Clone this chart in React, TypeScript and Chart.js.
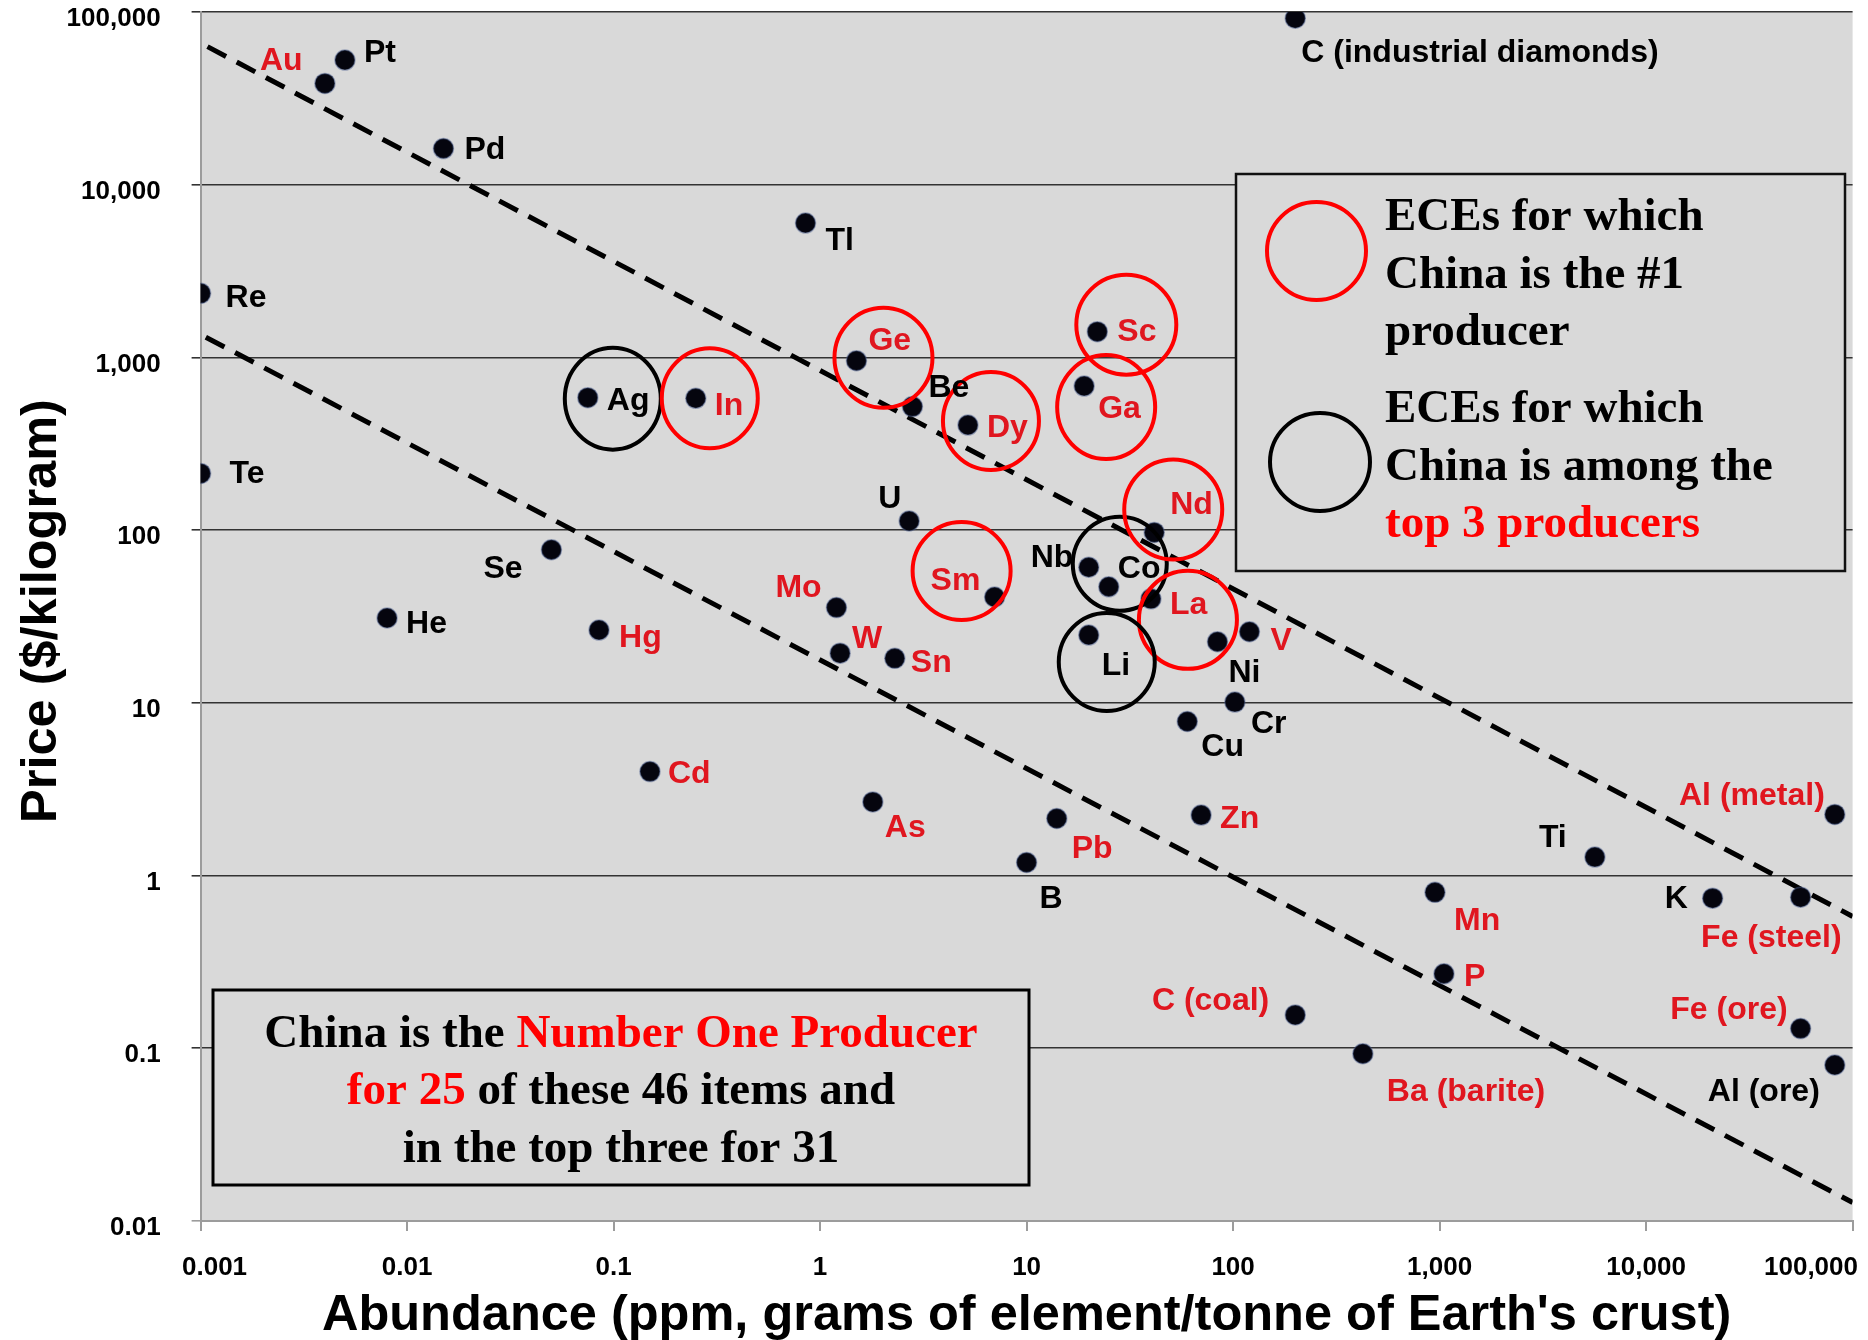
import React, { useEffect, useRef } from "react";
import { Chart, registerables } from "chart.js";

Chart.register(...registerables);

// ---- data -------------------------------------------------------------
const elements = [
  "Au", "Pt", "Pd", "Re", "Te", "Ag", "In", "Tl", "Ge", "Be", "Dy", "Sc", "Ga",
  "C (industrial diamonds)", "U", "Se", "He", "Hg", "Cd", "Mo", "W", "Sn", "Sm",
  "Nb", "Co", "Nd", "La", "Li", "Ni", "V", "Cr", "Cu", "As", "Pb", "B", "Zn",
  "Ti", "Al (metal)", "K", "Fe (steel)", "Mn", "P", "C (coal)", "Fe (ore)",
  "Ba (barite)", "Al (ore)",
];

// crustal abundance, ppm
const abundance = [
  0.004, 0.005, 0.015, 0.001, 0.001, 0.075, 0.25, 0.85, 1.5, 2.8, 5.2, 22, 19,
  200, 2.7, 0.05, 0.008, 0.085, 0.15, 1.2, 1.25, 2.3, 7, 20, 25, 41.5, 40, 20,
  84, 120, 102, 60, 1.8, 14, 10, 70, 5650, 82000, 21000, 56000, 950, 1050, 200,
  56000, 425, 82000,
];

// price, $/kg
const price = [
  38600, 52700, 16200, 2350, 213, 585, 580, 6000, 957, 519, 406, 1410, 683,
  92000, 113, 77, 31, 26.4, 4.0, 35.6, 19.4, 18.1, 41, 61, 47, 97, 40, 24.7,
  22.6, 25.8, 10.1, 7.8, 2.67, 2.14, 1.19, 2.24, 1.28, 2.26, 0.74, 0.75, 0.8,
  0.27, 0.156, 0.13, 0.093, 0.08,
];

// China is the #1 producer
const chinaFirst = [
  "Au", "In", "Ge", "Dy", "Sc", "Ga", "Hg", "Cd", "Mo", "W", "Sn", "Sm", "Nd",
  "La", "V", "As", "Pb", "Zn", "Al (metal)", "Fe (steel)", "Mn", "P", "C (coal)",
  "Fe (ore)", "Ba (barite)",
];

// circled ECEs
const circledFirst = ["In", "Ge", "Sc", "Ga", "Dy", "Sm", "Nd", "La"];
const circledTop3 = ["Ag", "Co", "Li"];

// dashed guide lines
const upperTrendX = [0.00108, 100000];
const upperTrendY = [63000, 0.58];
const lowerTrendX = [0.00106, 100000];
const lowerTrendY = [1310, 0.0128];

const xTicks = [0.001, 0.01, 0.1, 1, 10, 100, 1000, 10000, 100000];
const xTickLabels = ["0.001", "0.01", "0.1", "1", "10", "100", "1,000", "10,000", "100,000"];
const yTicks = [0.01, 0.1, 1, 10, 100, 1000, 10000, 100000];
const yTickLabels = ["0.01", "0.1", "1", "10", "100", "1,000", "10,000", "100,000"];

// ---- layout / style ---------------------------------------------------
const W = 1868;
const H = 1340;
const SANS = '"Liberation Sans", Arial, sans-serif';
const SERIF = '"Liberation Serif", "Times New Roman", serif';
const LABEL_RED = "#e0161f";
const PURE_RED = "#ff0000";
const PLOT_BG = "#d9d9d9";
const GRID = "#333333";
const AXIS_GRAY = "#9c9c9c";

// label placement relative to its dot: [dx, dy, align]
const labelPlacement: Record<string, [number, number, CanvasTextAlign]> = {
  Au: [-65, -13, "left"],
  Pt: [19, 2, "left"],
  Pd: [21, 10, "left"],
  Re: [25, 14, "left"],
  Te: [29, 10, "left"],
  Ag: [19, 12, "left"],
  In: [19, 17, "left"],
  Tl: [20, 27, "left"],
  Ge: [12, -11, "left"],
  Be: [16, -10, "left"],
  Dy: [19, 12, "left"],
  Sc: [20, 9, "left"],
  Ga: [14, 32, "left"],
  "C (industrial diamonds)": [6, 44, "left"],
  U: [-31, -13, "left"],
  Se: [-68, 28, "left"],
  He: [19, 15, "left"],
  Hg: [20, 17, "left"],
  Cd: [18, 11, "left"],
  Mo: [-61, -11, "left"],
  W: [12, -5, "left"],
  Sn: [16, 14, "left"],
  Sm: [-64, -7, "left"],
  Nb: [-58, 0, "left"],
  Co: [9, -9, "left"],
  Nd: [16, -18, "left"],
  La: [19, 15, "left"],
  Li: [13, 40, "left"],
  Ni: [11, 40, "left"],
  V: [21, 18, "left"],
  Cr: [16, 31, "left"],
  Cu: [14, 35, "left"],
  As: [12, 35, "left"],
  Pb: [15, 39, "left"],
  B: [13, 45, "left"],
  Zn: [19, 13, "left"],
  Ti: [-56, -10, "left"],
  "Al (metal)": [-10, -9, "right"],
  K: [-48, 10, "left"],
  "Fe (steel)": [41, 50, "right"],
  Mn: [19, 38, "left"],
  P: [20, 12, "left"],
  "C (coal)": [-26, -5, "right"],
  "Fe (ore)": [-13, -10, "right"],
  "Ba (barite)": [24, 47, "left"],
  "Al (ore)": [-15, 36, "right"],
};

// ellipse around a dot: [dx, dy, rx, ry]
const ringPlacement: Record<string, [number, number, number, number]> = {
  Ag: [25, 1, 48, 51],
  In: [14, 0, 48, 50],
  Ge: [27, -3, 49, 50],
  Sc: [29, -7, 50, 50],
  Ga: [22, 21, 49, 52],
  Dy: [23, -4, 48, 49],
  Sm: [-33, -26, 49, 49],
  Nd: [19, -23, 49, 50],
  La: [37, 21, 49, 49],
  Co: [11, -23, 47, 47],
  Li: [18, 27, 48, 49],
};

type Seg = [string, string];

function drawSegLine(ctx: CanvasRenderingContext2D, segs: Seg[], cx: number, y: number) {
  const total = segs.reduce((s, [t]) => s + ctx.measureText(t).width, 0);
  let x = cx - total / 2;
  ctx.textAlign = "left";
  for (const [t, c] of segs) {
    ctx.fillStyle = c;
    ctx.fillText(t, x, y);
    x += ctx.measureText(t).width;
  }
}

const overlay = {
  id: "overlay",
  beforeDraw(chart: any) {
    const { ctx, chartArea: a } = chart;
    ctx.save();
    ctx.fillStyle = "#ffffff";
    ctx.fillRect(0, 0, chart.width, chart.height);
    ctx.fillStyle = PLOT_BG;
    ctx.fillRect(a.left, a.top, a.right - a.left, a.bottom - a.top);
    ctx.restore();
  },
  afterDatasetsDraw(chart: any) {
    const { ctx } = chart;
    const xs = chart.scales.x;
    const ys = chart.scales.y;
    ctx.save();
    // rings
    ctx.lineWidth = 4;
    elements.forEach((name, i) => {
      const ring = ringPlacement[name];
      if (!ring) return;
      const px = xs.getPixelForValue(abundance[i]);
      const py = ys.getPixelForValue(price[i]);
      ctx.strokeStyle = circledFirst.includes(name) ? PURE_RED : circledTop3.includes(name) ? "#000" : "transparent";
      ctx.beginPath();
      ctx.ellipse(px + ring[0], py + ring[1], ring[2], ring[3], 0, 0, Math.PI * 2);
      ctx.stroke();
    });
    // element names
    ctx.font = `bold 32px ${SANS}`;
    ctx.textBaseline = "alphabetic";
    elements.forEach((name, i) => {
      const px = xs.getPixelForValue(abundance[i]);
      const py = ys.getPixelForValue(price[i]);
      const [dx, dy, align] = labelPlacement[name] || [15, 10, "left"];
      ctx.textAlign = align;
      ctx.fillStyle = chinaFirst.includes(name) ? LABEL_RED : "#000";
      ctx.fillText(name, px + dx, py + dy);
    });
    ctx.restore();
  },
  afterDraw(chart: any) {
    const { ctx, chartArea: a } = chart;
    const xs = chart.scales.x;
    const ys = chart.scales.y;
    ctx.save();

    // tick labels
    ctx.fillStyle = "#000";
    ctx.font = `bold 26px ${SANS}`;
    ctx.textBaseline = "middle";
    ctx.textAlign = "right";
    yTicks.forEach((v, i) => {
      ctx.fillText(yTickLabels[i], a.left - 40, ys.getPixelForValue(v) + 7);
    });
    ctx.textAlign = "center";
    xTicks.forEach((v, i) => {
      const label = xTickLabels[i];
      const w = ctx.measureText(label).width;
      let cx = xs.getPixelForValue(v);
      cx = Math.max(cx, 182 + w / 2);
      cx = Math.min(cx, W - 10 - w / 2);
      ctx.fillText(label, cx, a.bottom + 47);
    });

    // axis titles
    ctx.textBaseline = "alphabetic";
    ctx.font = `bold 50.5px ${SANS}`;
    ctx.textAlign = "center";
    ctx.fillText("Abundance (ppm, grams of element/tonne of Earth's crust)", (a.left + a.right) / 2, 1330);
    ctx.save();
    ctx.translate(56, 611);
    ctx.rotate(-Math.PI / 2);
    ctx.fillText("Price ($/kilogram)", 0, 0);
    ctx.restore();

    // key box
    const kx = 1236, ky = 174, kw = 609, kh = 397;
    ctx.fillStyle = PLOT_BG;
    ctx.fillRect(kx, ky, kw, kh);
    ctx.strokeStyle = "#111";
    ctx.lineWidth = 2.5;
    ctx.strokeRect(kx, ky, kw, kh);
    ctx.lineWidth = 4;
    ctx.strokeStyle = PURE_RED;
    ctx.beginPath();
    ctx.ellipse(1316.5, 251, 49.5, 49, 0, 0, Math.PI * 2);
    ctx.stroke();
    ctx.strokeStyle = "#000";
    ctx.beginPath();
    ctx.ellipse(1320, 462, 50, 49, 0, 0, Math.PI * 2);
    ctx.stroke();
    ctx.font = `bold 47px ${SERIF}`;
    ctx.textAlign = "left";
    ctx.fillStyle = "#000";
    ctx.fillText("ECEs for which", 1385, 230);
    ctx.fillText("China is the #1", 1385, 288);
    ctx.fillText("producer", 1385, 345);
    ctx.fillText("ECEs for which", 1385, 422);
    ctx.fillText("China is among the", 1385, 480);
    ctx.fillStyle = PURE_RED;
    ctx.fillText("top 3 producers", 1385, 537);

    // summary box
    const bx = 213, by = 990, bw = 816, bh = 195;
    ctx.fillStyle = PLOT_BG;
    ctx.fillRect(bx, by, bw, bh);
    ctx.strokeStyle = "#000";
    ctx.lineWidth = 3;
    ctx.strokeRect(bx, by, bw, bh);
    ctx.font = `bold 47px ${SERIF}`;
    const cx = bx + bw / 2;
    drawSegLine(ctx, [["China is the ", "#000"], ["Number One Producer", PURE_RED]], cx, 1047);
    drawSegLine(ctx, [["for 25", PURE_RED], [" of these 46 items and", "#000"]], cx, 1104);
    drawSegLine(ctx, [["in the top three for 31", "#000"]], cx, 1162);

    ctx.restore();
  },
};

export default function App() {
  const canvasRef = useRef<HTMLCanvasElement | null>(null);

  useEffect(() => {
    const canvas = canvasRef.current;
    if (!canvas) return;
    const chart = new Chart(canvas, {
      type: "scatter",
      data: {
        datasets: [
          {
            label: "Elements",
            data: abundance.map((a, i) => ({ x: a, y: price[i] })),
            pointRadius: 10,
            pointHoverRadius: 10,
            pointBackgroundColor: "#05050e",
            pointBorderColor: "rgba(70,90,140,0.45)",
            pointBorderWidth: 1.5,
            order: 0,
          },
          {
            type: "line",
            label: "Upper trend",
            data: upperTrendX.map((x, i) => ({ x, y: upperTrendY[i] })),
            borderColor: "#000",
            borderWidth: 5,
            borderDash: [21, 12],
            pointRadius: 0,
            fill: false,
            order: 1,
          },
          {
            type: "line",
            label: "Lower trend",
            data: lowerTrendX.map((x, i) => ({ x, y: lowerTrendY[i] })),
            borderColor: "#000",
            borderWidth: 5,
            borderDash: [21, 12],
            pointRadius: 0,
            fill: false,
            order: 1,
          },
        ] as any,
      },
      options: {
        responsive: false,
        animation: false,
        devicePixelRatio: 1,
        layout: { padding: { left: 191.6, right: 15.4, top: 12, bottom: 109 } },
        plugins: { legend: { display: false }, tooltip: { enabled: false } },
        scales: {
          x: {
            type: "logarithmic",
            min: 0.001,
            max: 100000,
            afterBuildTicks: (s: any) => {
              s.ticks = xTicks.map((v) => ({ value: v }));
            },
            ticks: { display: false },
            grid: {
              drawOnChartArea: false,
              drawTicks: true,
              tickLength: 10,
              color: AXIS_GRAY,
              lineWidth: 2,
            },
            border: { display: true, color: AXIS_GRAY, width: 2 },
          },
          y: {
            type: "logarithmic",
            min: 0.01,
            max: 100000,
            afterBuildTicks: (s: any) => {
              s.ticks = yTicks.map((v) => ({ value: v }));
            },
            ticks: { display: false },
            grid: {
              drawTicks: true,
              tickLength: 9,
              color: (c: any) => (c.tick && c.tick.value === 0.01 ? AXIS_GRAY : GRID),
              lineWidth: 1.6,
            },
            border: { display: true, color: AXIS_GRAY, width: 2 },
          },
        },
      } as any,
      plugins: [overlay],
    });
    return () => chart.destroy();
  }, []);

  return (
    <div style={{ position: "fixed", left: 0, top: 0, width: W, height: H, background: "#fff" }}>
      <canvas ref={canvasRef} width={W} height={H} style={{ display: "block", width: W, height: H }} />
    </div>
  );
}
